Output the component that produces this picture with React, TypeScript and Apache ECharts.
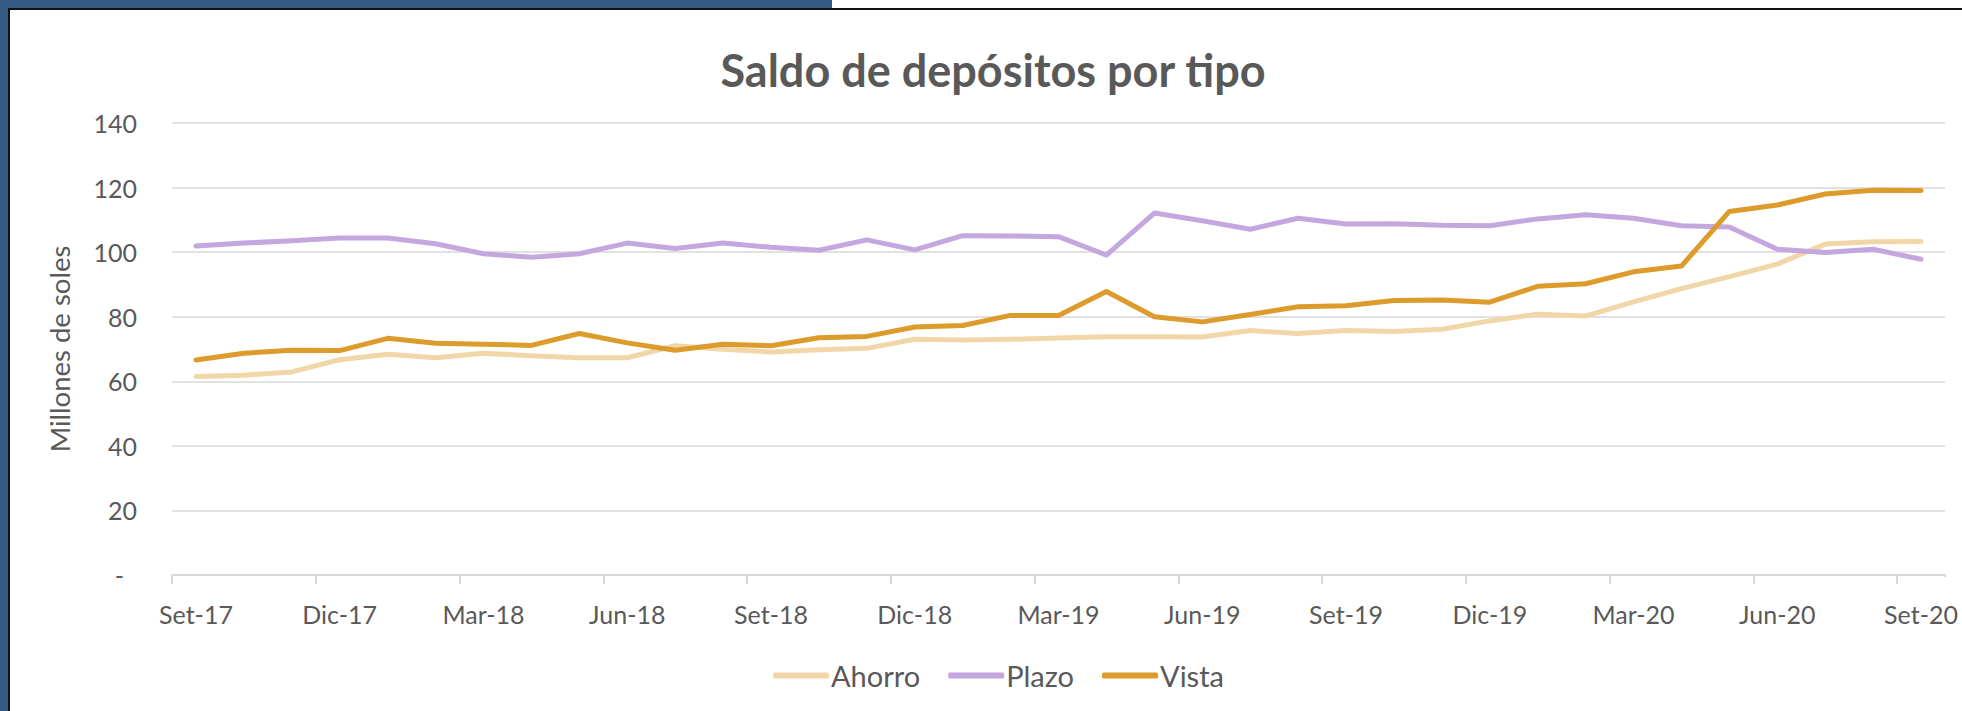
import React, { useEffect, useRef } from "react";
import * as echarts from "echarts";

const months = [
  "Set-17", "Oct-17", "Nov-17", "Dic-17", "Ene-18", "Feb-18", "Mar-18", "Abr-18", "May-18", "Jun-18", "Jul-18", "Ago-18",
  "Set-18", "Oct-18", "Nov-18", "Dic-18", "Ene-19", "Feb-19", "Mar-19", "Abr-19", "May-19", "Jun-19", "Jul-19", "Ago-19",
  "Set-19", "Oct-19", "Nov-19", "Dic-19", "Ene-20", "Feb-20", "Mar-20", "Abr-20", "May-20", "Jun-20", "Jul-20", "Ago-20",
  "Set-20",
];

const ahorro = [
  61.5, 61.9, 62.9, 66.7, 68.4, 67.3, 68.7, 67.9, 67.3, 67.3, 71.0, 69.9,
  69.1, 69.8, 70.2, 73.0, 72.8, 73.0, 73.4, 73.8, 73.8, 73.7, 75.7, 74.8,
  75.7, 75.4, 76.1, 78.7, 80.8, 80.2, 84.6, 88.7, 92.4, 96.3, 102.5, 103.2,
  103.3,
];

const plazo = [
  101.9, 102.8, 103.5, 104.4, 104.4, 102.6, 99.5, 98.4, 99.5, 102.8, 101.1, 102.8,
  101.5, 100.6, 103.8, 100.7, 105.1, 105.0, 104.8, 99.1, 112.1, 109.7, 107.1, 110.5,
  108.7, 108.8, 108.3, 108.2, 110.3, 111.6, 110.5, 108.2, 107.8, 100.9, 99.9, 100.9,
  97.8,
];

const vista = [
  66.6, 68.7, 69.6, 69.5, 73.3, 71.8, 71.5, 71.1, 74.8, 71.9, 69.6, 71.5,
  71.0, 73.5, 73.9, 76.8, 77.3, 80.4, 80.4, 87.8, 80.0, 78.4, 80.7, 83.1,
  83.4, 85.0, 85.2, 84.5, 89.4, 90.2, 93.9, 95.7, 112.6, 114.6, 118.0, 119.2,
  119.1,
];

const seriesNames = ["Ahorro", "Plazo", "Vista"];
const seriesColors = ["#F1D7A7", "#C4A7DF", "#DC9B2B"];

const FONT = "Lato";
const TEXT = "#595959";

export default function App() {
  const ref = useRef<HTMLDivElement>(null);

  useEffect(() => {
    if (!ref.current) return;
    const chart = echarts.init(ref.current, undefined, { renderer: "svg" });
    const data = [ahorro, plazo, vista];
    chart.setOption({
      animation: false,
      backgroundColor: "#FFFFFF",
      title: {
        text: "Saldo de depósitos por tipo",
        left: 988,
        textAlign: "center",
        top: 42,
        textStyle: { fontFamily: FONT, fontSize: 45, fontWeight: "bold", color: TEXT },
      },
      legend: {
        data: seriesNames,
        left: 768,
        top: 656,
        icon: "roundRect",
        itemWidth: 56,
        itemHeight: 6,
        itemGap: 28,
        textStyle: { fontFamily: FONT, fontSize: 29, color: TEXT, padding: [0, 0, 0, -3] },
      },
      grid: { left: 172, right: 17, top: 123, bottom: 136, containLabel: false },
      xAxis: {
        type: "category",
        data: months,
        boundaryGap: true,
        axisLine: { lineStyle: { color: "#D9D9D9", width: 2 } },
        axisTick: { show: true, interval: 2, alignWithLabel: false, length: 9, lineStyle: { color: "#D9D9D9", width: 2 } },
        axisLabel: { interval: 2, margin: 26, fontFamily: FONT, fontSize: 25, color: TEXT },
        splitLine: { show: false },
      },
      yAxis: {
        type: "value",
        min: 0,
        max: 140,
        interval: 20,
        name: "Millones de soles",
        nameLocation: "middle",
        nameRotate: 90,
        nameGap: 99,
        nameTextStyle: { fontFamily: FONT, fontSize: 27.5, color: TEXT },
        axisLine: { show: false },
        axisTick: { show: false },
        axisLabel: {
          margin: 35,
          fontFamily: FONT,
          fontSize: 25,
          color: TEXT,
          formatter: (v: number) => (v === 0 ? "{dash|-}" : String(v)),
          rich: { dash: { fontFamily: FONT, fontSize: 25, color: TEXT, padding: [0, 13, 0, 0] } },
        },
        splitLine: { lineStyle: { color: "#D9D9D9", width: 1.5 } },
      },
      series: seriesNames.map((name, i) => ({
        name,
        type: "line",
        data: data[i],
        symbol: "none",
        smooth: false,
        itemStyle: { color: seriesColors[i] },
        lineStyle: { color: seriesColors[i], width: 5, cap: "round", join: "round" },
      })),
      graphic: [
        { type: "rect", left: 0, top: 0, shape: { x: 0, y: 0, width: 832, height: 8 }, style: { fill: "#365A86" }, z: 10 },
        { type: "rect", left: 0, top: 0, shape: { x: 0, y: 0, width: 8, height: 711 }, style: { fill: "#365A86" }, z: 10 },
        { type: "rect", left: 8, top: 8, shape: { x: 0, y: 0, width: 1954, height: 2 }, style: { fill: "#111111" }, z: 10 },
        { type: "rect", left: 8, top: 8, shape: { x: 0, y: 0, width: 2, height: 703 }, style: { fill: "#111111" }, z: 10 },
        { type: "rect", left: 1941, top: 577, shape: { x: 0, y: 0, width: 10, height: 12 }, style: { fill: "#FFFFFF" }, z: 10 },
      ],
    });
    return () => chart.dispose();
  }, []);

  return (
    <div
      ref={ref}
      style={{ position: "fixed", left: 0, top: 0, width: 1962, height: 711 }}
    />
  );
}
